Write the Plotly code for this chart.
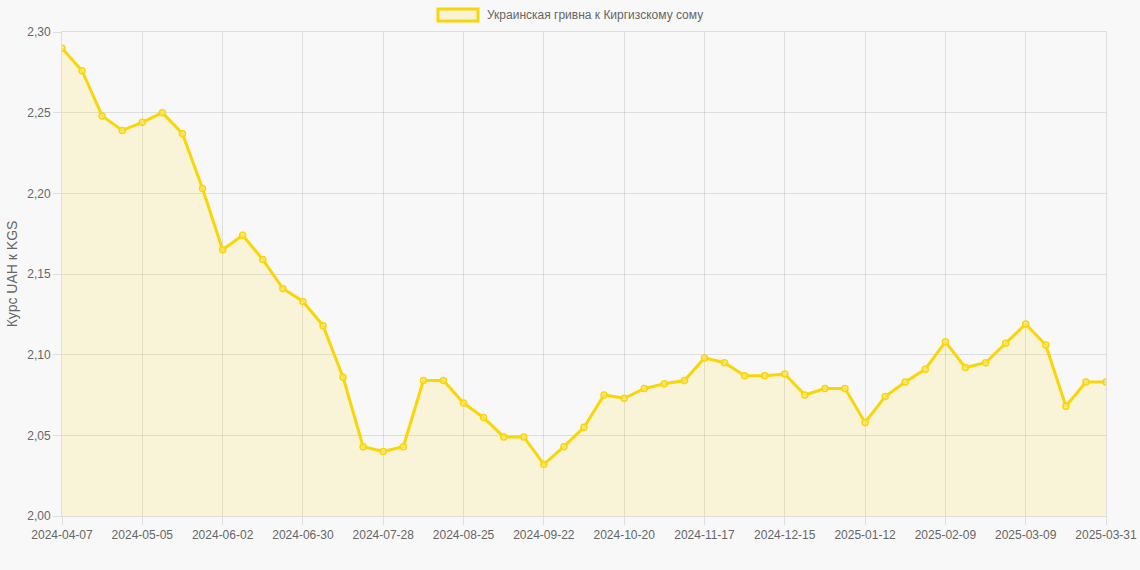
import datetime as dt
import plotly.graph_objects as go

# ---- data ----
start = dt.date(2024, 4, 7)
dates = [(start + dt.timedelta(weeks=i)).isoformat() for i in range(52)] + ["2025-03-31"]
rates = [2.290, 2.276, 2.248, 2.239, 2.244, 2.250, 2.237, 2.203, 2.165, 2.174,
         2.159, 2.141, 2.133, 2.118, 2.086, 2.043, 2.040, 2.043, 2.084, 2.084,
         2.070, 2.061, 2.049, 2.049, 2.032, 2.043, 2.055, 2.075, 2.073, 2.079,
         2.082, 2.084, 2.098, 2.095, 2.087, 2.087, 2.088, 2.075, 2.079, 2.079,
         2.058, 2.074, 2.083, 2.091, 2.108, 2.092, 2.095, 2.107, 2.119, 2.106,
         2.068, 2.083, 2.083]
series_name = "Украинская гривна к Киргизскому сому"
y_title = "Курс UAH к KGS"
tick_labels = dates[0:49:4] + [dates[-1]]

LINE = "rgb(248,214,8)"
FILL = "rgba(255,220,60,0.17)"
GRID = "rgba(0,0,0,0.1)"
TXT = "#666666"
BG = "#f8f8f8"

fig = go.Figure()
fig.add_trace(go.Scatter(
    x=dates, y=rates, mode="lines+markers", name=series_name,
    line=dict(color=LINE, width=3),
    marker=dict(size=6, color="rgba(250,235,150,0.6)", line=dict(color=LINE, width=1.5)),
    fill="tozeroy", fillcolor=FILL, showlegend=False,
))

fig.update_layout(
    width=1140, height=570,
    margin=dict(l=62, r=34, t=32, b=54, autoexpand=False),
    paper_bgcolor=BG, plot_bgcolor=BG,
    font=dict(family="Liberation Sans, Arial, sans-serif", size=12, color=TXT),
    separators=",.",
    showlegend=False,
)
fig.update_xaxes(
    type="category", categoryorder="array", categoryarray=dates,
    range=[0, len(dates) - 1], automargin=False,
    tickmode="array", tickvals=tick_labels, ticktext=tick_labels,
    tickangle=0,
    showgrid=True, gridcolor=GRID, gridwidth=1,
    ticks="outside", ticklen=8, tickcolor=GRID,
    showline=True, linecolor=GRID, linewidth=1, mirror=True,
    zeroline=False,
)
fig.update_yaxes(
    range=[2.0, 2.3], dtick=0.05, tickformat=".2f", automargin=False,
    showgrid=True, gridcolor=GRID, gridwidth=1,
    ticks="outside", ticklen=8, tickcolor=GRID,
    showline=True, linecolor=GRID, linewidth=1, mirror=True,
    zeroline=False,
    title=dict(text=y_title, font=dict(size=14, color=TXT), standoff=6),
)

# legend (Chart.js style box + label)
fig.add_shape(type="rect", xref="paper", yref="paper",
              x0=(438 - 62) / 1044, x1=(478 - 62) / 1044,
              y0=1 + (32 - 21) / 484, y1=1 + (32 - 9) / 484,
              line=dict(color=LINE, width=3), fillcolor="rgba(250,240,190,0.6)")
fig.add_annotation(xref="paper", yref="paper",
                   x=(485 - 62) / 1044, y=1 + (32 - 15) / 484,
                   xanchor="left", yanchor="middle", showarrow=False,
                   text=series_name, font=dict(size=12, color=TXT))

fig.write_html(
    "out.html",
    config={"displayModeBar": False},
    post_script="document.body.style.margin='0';document.body.style.background='#f8f8f8';document.body.style.overflow='hidden';",
)
